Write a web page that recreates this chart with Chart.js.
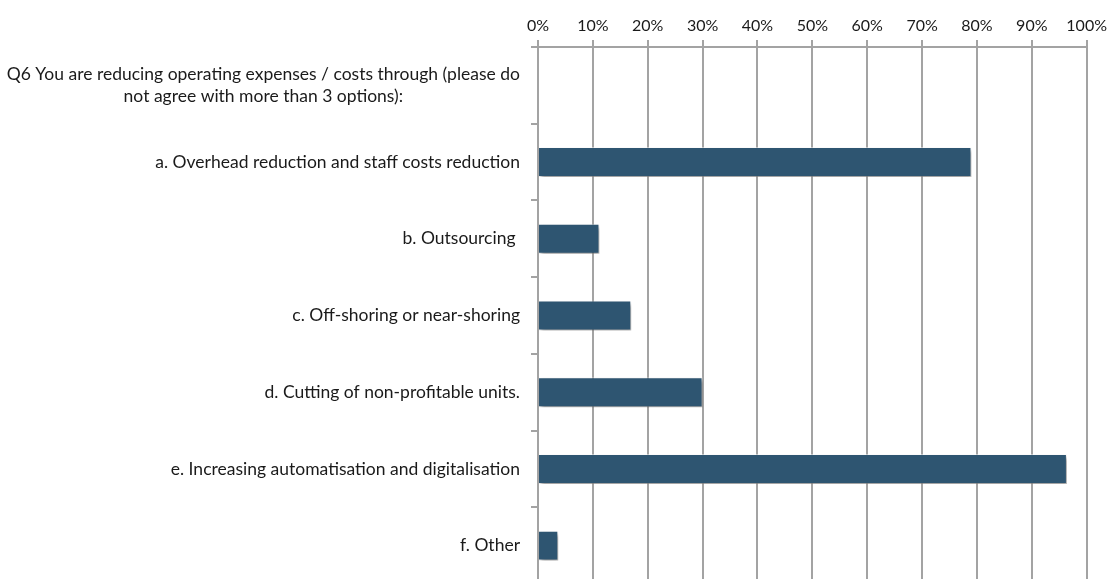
<!DOCTYPE html>
<html>
<head>
<meta charset="utf-8">
<script src="https://cdn.jsdelivr.net/npm/chart.js@4/dist/chart.umd.min.js"></script>
<style>
  html, body { margin: 0; padding: 0; background: #fff; overflow: hidden; }
  #wrap { width: 1112px; height: 590px; position: relative; }
</style>
</head>
<body>
<div id="wrap"><canvas id="costChart"></canvas></div>
<script>
// categories (the question itself sits in the first row, without a bar)
const categories = [
    ['Q6 You are reducing operating expenses / costs through (please do', 'not agree with more than 3 options):'],
    'a. Overhead reduction and staff costs reduction',
    'b. Outsourcing ',
    'c. Off-shoring or near-shoring',
    'd. Cutting of non-profitable units.',
    'e. Increasing automatisation and digitalisation',
    'f. Other'
];

// share of respondents, %
const shares = [null, 79, 11.2, 17, 30, 96.4, 3.7];

const xTicks = [0, 10, 20, 30, 40, 50, 60, 70, 80, 90, 100];

const gridGrey = '#a3a3a3';
const labelFont = '17.5px Lato';

// soft drop shadow under the bars
const barShadow = {
    id: 'barShadow',
    beforeDatasetsDraw(chart) {
        const ctx = chart.ctx;
        ctx.save();
        ctx.shadowColor = 'rgba(0, 0, 0, 0.4)';
        ctx.shadowBlur = 4;
        ctx.shadowOffsetX = 2;
        ctx.shadowOffsetY = 3;
    },
    afterDatasetsDraw(chart) {
        chart.ctx.restore();
    }
};

// category labels: right edge fixed, multi-line blocks centred on themselves
const catLabels = {
    id: 'catLabels',
    afterDraw(chart) {
        const yScale = chart.scales.y;
        const ctx = chart.ctx;
        const right = yScale.right - 18;
        const lineH = 22;
        ctx.save();
        ctx.font = labelFont;
        ctx.fillStyle = '#1a1a1a';
        ctx.textAlign = 'center';
        ctx.textBaseline = 'middle';
        categories.forEach(function (lab, i) {
            const rows = [].concat(lab);
            const w = Math.max.apply(null, rows.map(r => ctx.measureText(r).width));
            const y = yScale.getPixelForTick(i);
            rows.forEach(function (r, j) {
                ctx.fillText(r, right - w / 2, y + (j - (rows.length - 1) / 2) * lineH);
            });
        });
        ctx.restore();
    }
};

new Chart(document.getElementById('costChart'), {
    type: 'bar',
    data: {
        labels: categories,
        datasets: [{
            data: shares,
            backgroundColor: '#2e5571',
            borderColor: 'rgba(255, 255, 255, 0.5)',
            borderWidth: 1,
            barPercentage: 0.39,
            categoryPercentage: 1
        }]
    },
    options: {
        indexAxis: 'y',
        responsive: true,
        maintainAspectRatio: false,
        animation: false,
        layout: { padding: { top: 0, left: 0, right: 0, bottom: 6 } },
        plugins: {
            legend: { display: false },
            tooltip: { enabled: false }
        },
        scales: {
            x: {
                position: 'top',
                min: 0,
                max: 100,
                afterBuildTicks(scale) {
                    scale.ticks = xTicks.map(v => ({ value: v }));
                },
                afterFit(scale) { scale.height = 47; },
                ticks: {
                    callback: v => v + '%',
                    font: { family: 'Lato', size: 16 },
                    color: '#1a1a1a',
                    padding: 5,
                    maxRotation: 0
                },
                grid: {
                    color: gridGrey,
                    lineWidth: 2,
                    tickLength: 7
                },
                border: { color: gridGrey, width: 2 }
            },
            y: {
                type: 'category',
                afterFit(scale) { scale.width = 538; },
                ticks: { display: false },
                grid: {
                    offset: true,
                    drawOnChartArea: false,
                    drawTicks: true,
                    tickLength: 7,
                    color: gridGrey,
                    lineWidth: 2
                },
                border: { color: gridGrey, width: 2 }
            }
        }
    },
    plugins: [barShadow, catLabels]
});
</script>
</body>
</html>
